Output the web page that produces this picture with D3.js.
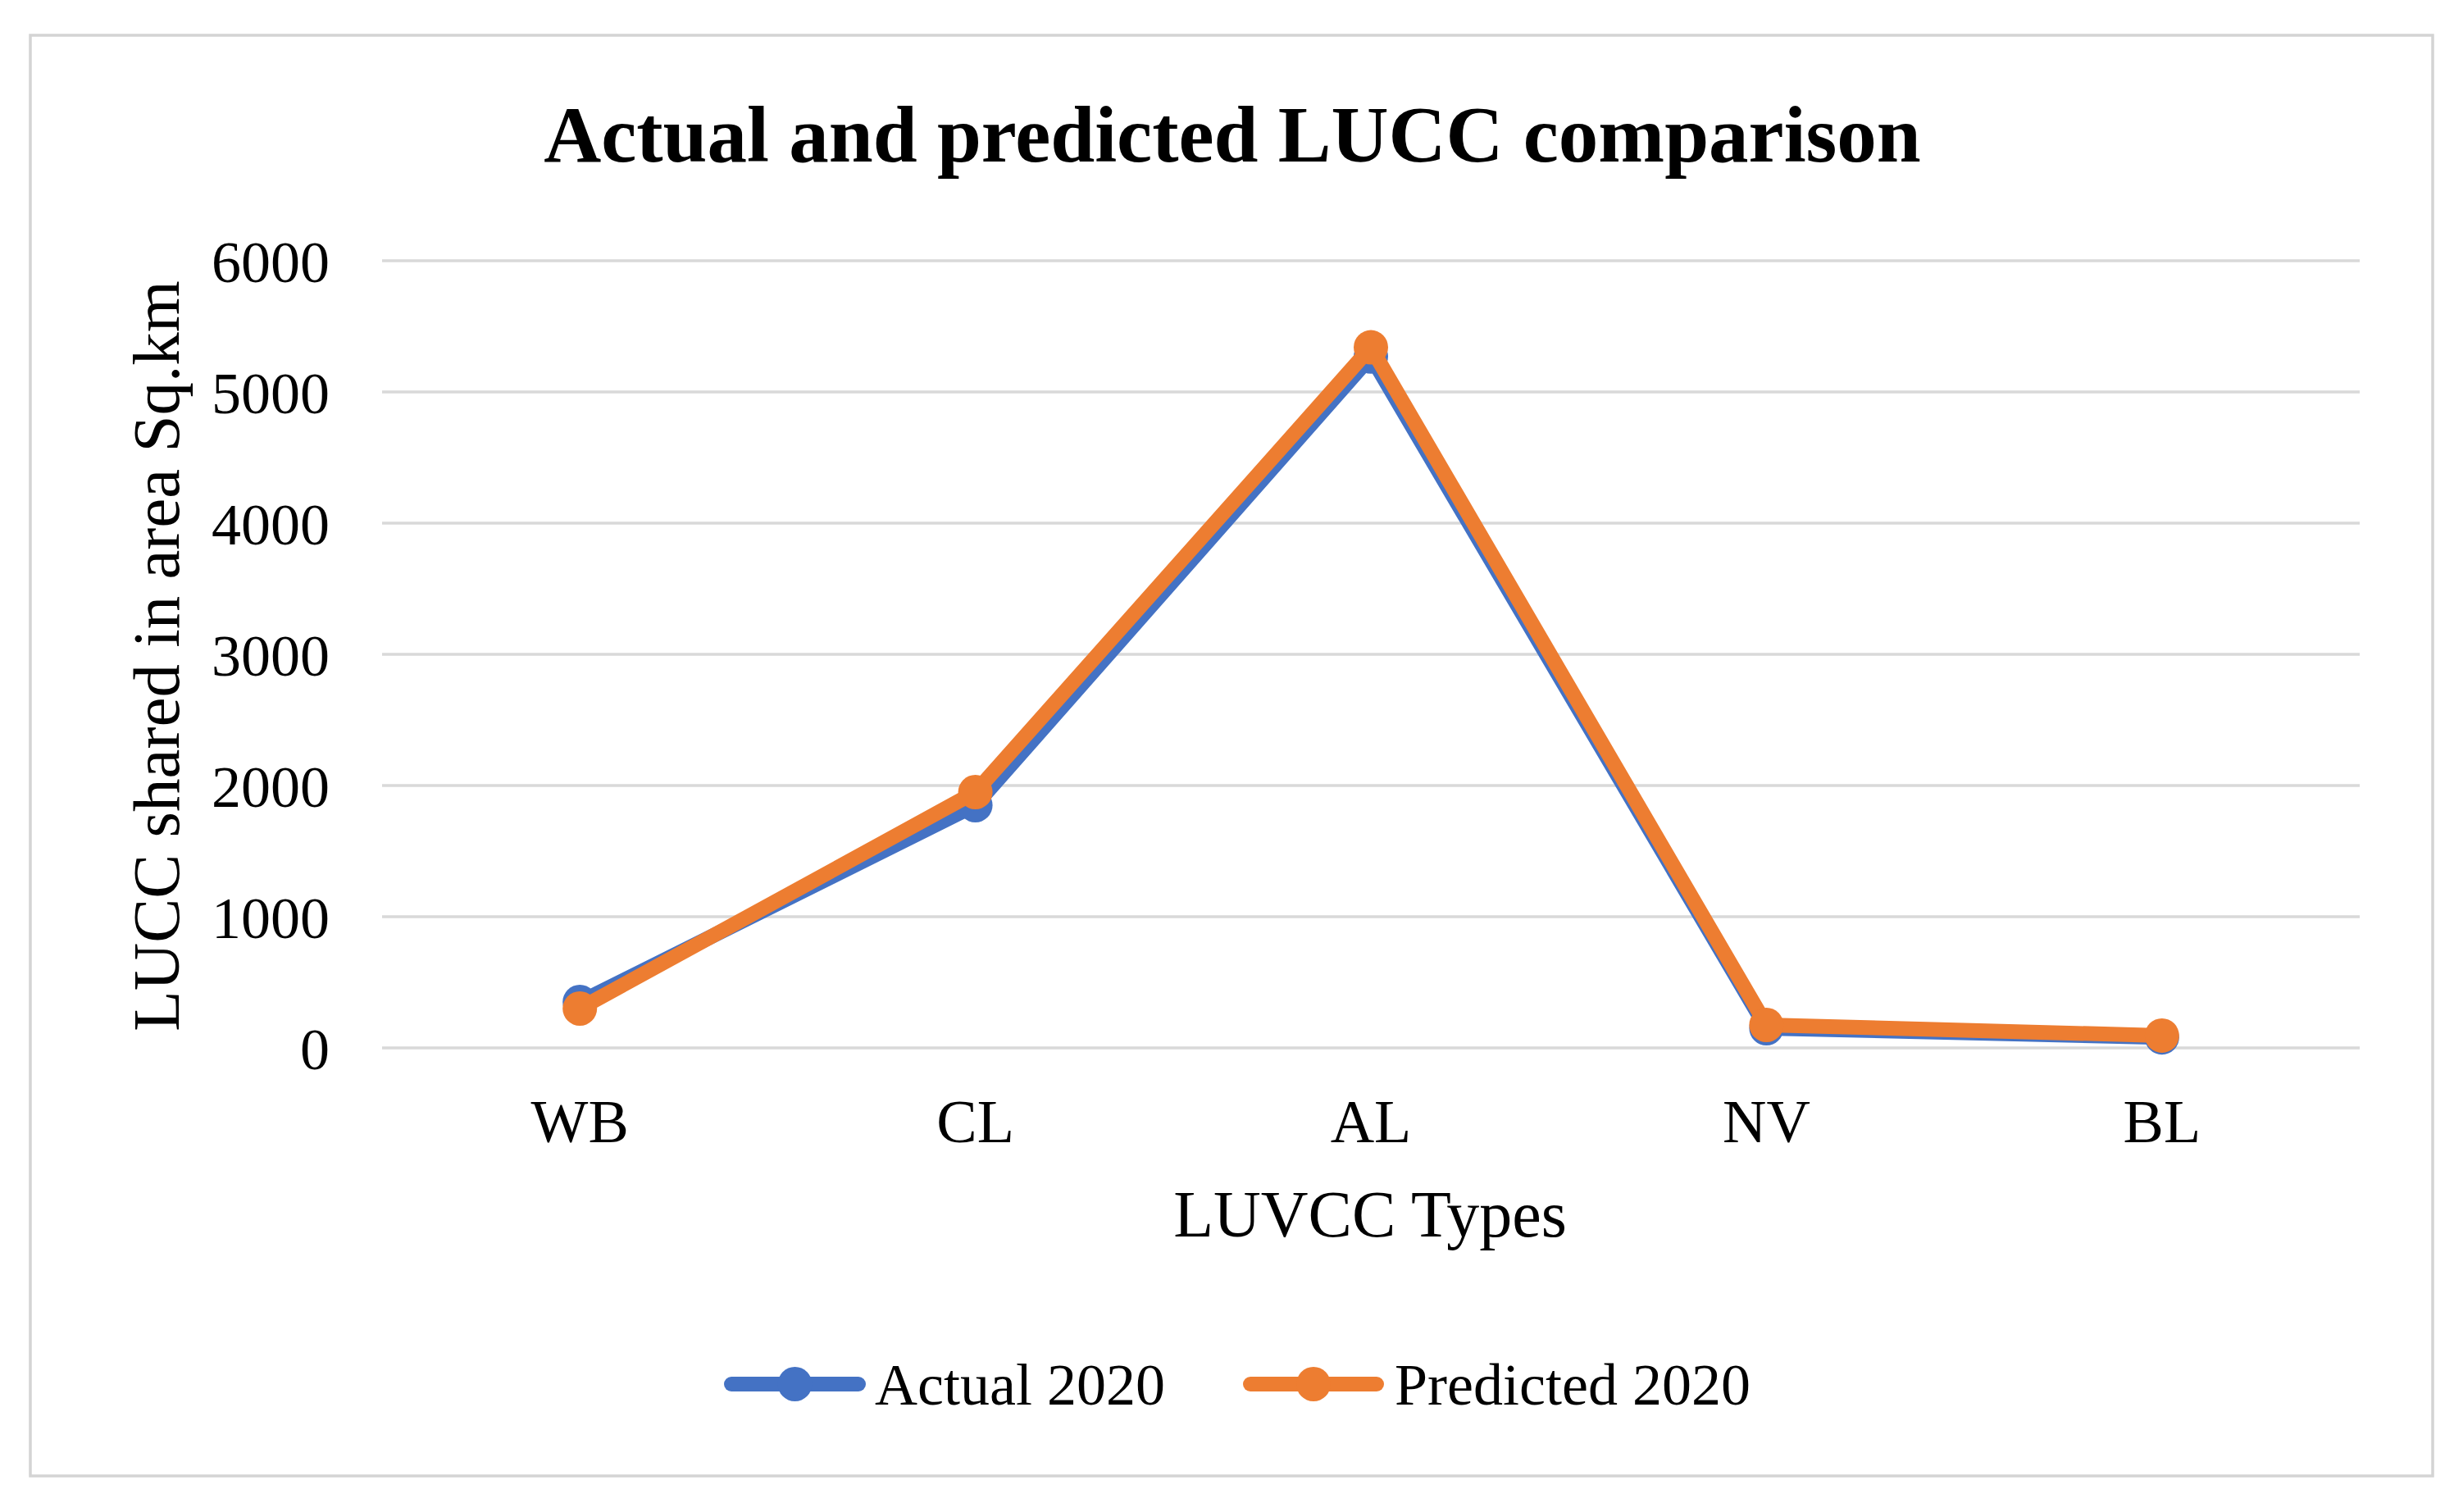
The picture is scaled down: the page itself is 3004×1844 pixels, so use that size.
<!DOCTYPE html>
<html>
<head>
<meta charset="utf-8">
<script src="https://cdn.jsdelivr.net/npm/d3@7"></script>
<style>
  html, body { margin: 0; padding: 0; background: #ffffff; }
  svg { display: block; }
  text { font-family: "Liberation Serif", "Times New Roman", serif; fill: #000; }
</style>
</head>
<body>
<svg id="chart" width="3004" height="1844"></svg>
<script>
// ---- Data ----
const categories = ["WB", "CL", "AL", "NV", "BL"];
const actual2020 = [350, 1850, 5270, 150, 80];
const predicted2020 = [300, 1950, 5340, 175, 94];
const seriesNames = ["Actual 2020", "Predicted 2020"];
const yTicks = [0, 1000, 2000, 3000, 4000, 5000, 6000];
const titleText = "Actual and predicted LUCC comparison";
const xTitle = "LUVCC Types";
const yTitle = "LUCC shared in area Sq.km";

const colors = ["#4472C4", "#ED7D31"];
const seriesValues = [actual2020, predicted2020];

const W = 3004, H = 1844;
const svg = d3.select("#chart");

// background + outer border
svg.append("rect").attr("x", 0).attr("y", 0).attr("width", W).attr("height", H).attr("fill", "#fff");
svg.append("rect")
  .attr("x", 37).attr("y", 43).attr("width", 2930).attr("height", 1757)
  .attr("fill", "none").attr("stroke", "#d4d4d4").attr("stroke-width", 3.5);

const plot = { left: 466, right: 2878, top: 318, bottom: 1278 };

const x = d3.scaleBand().domain(categories).range([plot.left, plot.right]);
const cx = d => x(d) + x.bandwidth() / 2;
const y = d3.scaleLinear().domain([0, 6000]).range([plot.bottom, plot.top]);

// gridlines
svg.append("g").selectAll("line").data(yTicks).join("line")
  .attr("x1", plot.left).attr("x2", plot.right)
  .attr("y1", d => y(d)).attr("y2", d => y(d))
  .attr("stroke", "#d9d9d9").attr("stroke-width", 3.5);

// y axis tick labels
const yAxis = d3.axisLeft(y).tickValues(yTicks).tickSize(0).tickPadding(0).tickFormat(d3.format("d"));
const gy = svg.append("g").attr("transform", `translate(402,0)`).call(yAxis);
gy.select(".domain").remove();
gy.selectAll("text").attr("font-size", 72).attr("font-family", "'Liberation Serif', serif").attr("fill", "#000").attr("dy", "0.35em");

// x axis labels
const xAxis = d3.axisBottom(x).tickSize(0).tickPadding(0);
const gx = svg.append("g").attr("transform", `translate(0,1393)`).call(xAxis);
gx.select(".domain").remove();
gx.selectAll("text").attr("font-size", 74).attr("font-family", "'Liberation Serif', serif").attr("fill", "#000").attr("dy", 0);

// titles
svg.append("text").attr("x", 1503).attr("y", 197).attr("text-anchor", "middle")
  .attr("font-size", 97).attr("font-weight", "bold").text(titleText);
svg.append("text").attr("x", 1671).attr("y", 1508).attr("text-anchor", "middle")
  .attr("font-size", 80).text(xTitle);
svg.append("text").attr("transform", "translate(218,800) rotate(-90)").attr("text-anchor", "middle")
  .attr("font-size", 81).text(yTitle);

// series
const line = d3.line().x((d, i) => cx(categories[i])).y(d => y(d));
seriesValues.forEach((vals, s) => {
  const g = svg.append("g");
  g.append("path").datum(vals).attr("d", line)
    .attr("fill", "none").attr("stroke", colors[s]).attr("stroke-width", 18)
    .attr("stroke-linejoin", "round").attr("stroke-linecap", "round");
  g.selectAll("circle").data(vals).join("circle")
    .attr("cx", (d, i) => cx(categories[i])).attr("cy", d => y(d))
    .attr("r", 21).attr("fill", colors[s]);
});

// legend
const legendItems = [
  { name: seriesNames[0], color: colors[0], x0: 892, x1: 1047, tx: 1067 },
  { name: seriesNames[1], color: colors[1], x0: 1525, x1: 1679, tx: 1701 }
];
const ly = 1688;
legendItems.forEach(it => {
  svg.append("line").attr("x1", it.x0).attr("x2", it.x1).attr("y1", ly).attr("y2", ly)
    .attr("stroke", it.color).attr("stroke-width", 18).attr("stroke-linecap", "round");
  svg.append("circle").attr("cx", (it.x0 + it.x1) / 2).attr("cy", ly).attr("r", 21).attr("fill", it.color);
  svg.append("text").attr("x", it.tx).attr("y", ly).attr("dy", "0.35em").attr("font-size", 72).text(it.name);
});
</script>
</body>
</html>
